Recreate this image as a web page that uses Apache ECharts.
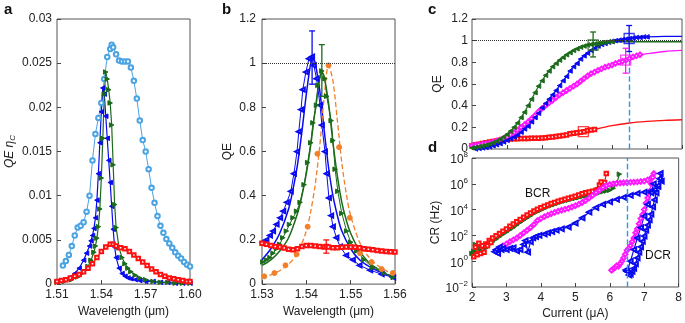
<!DOCTYPE html>
<html>
<head>
<meta charset="utf-8">
<script src="https://cdn.jsdelivr.net/npm/echarts@6/dist/echarts.min.js"></script>
<style>
  html, body { margin: 0; padding: 0; background: #fff; }
  #chart { width: 685px; height: 323px; }
</style>
</head>
<body>
<div id="chart"></div>
<script>
// ---- panel a : QE x eta_C vs wavelength ----
let aLightX = [1.514,1.516,1.518,1.520,1.522,1.524,1.526,1.528,1.530,1.532,1.534,1.536,1.538,1.540,1.542,1.544,1.546,1.547,1.548,1.550,1.552,1.554,1.556,1.558,1.560,1.562,1.564,1.566,1.568,1.570,1.572,1.574,1.576,1.578,1.580,1.582,1.584,1.586,1.588,1.590,1.592,1.594,1.596,1.598,1.600];
let aLightY = [0.0021,0.0026,0.0033,0.0043,0.0055,0.0064,0.0066,0.0070,0.0082,0.0100,0.0140,0.0170,0.0188,0.0205,0.0232,0.0257,0.0266,0.0271,0.0268,0.0260,0.0253,0.0252,0.0252,0.0252,0.0245,0.0230,0.0210,0.0185,0.0163,0.0150,0.0130,0.0109,0.0092,0.0077,0.0066,0.0058,0.0051,0.0046,0.0041,0.0036,0.0032,0.0029,0.0025,0.0022,0.0020];
let aBlueX = [1.510,1.514,1.518,1.522,1.525,1.528,1.530,1.532,1.533,1.534,1.535,1.536,1.537,1.538,1.539,1.540,1.541,1.542,1.543,1.544,1.545,1.546,1.547,1.548,1.549,1.550,1.552,1.554,1.556,1.558,1.560,1.563,1.566,1.570,1.575,1.580,1.585,1.590,1.595,1.600];
let aBlueY = [0.0003,0.0005,0.0007,0.0012,0.0018,0.0027,0.0035,0.0043,0.0049,0.0055,0.0063,0.0075,0.0095,0.0125,0.0160,0.0195,0.0222,0.0215,0.0190,0.0165,0.0140,0.0115,0.0088,0.0062,0.0042,0.0030,0.0018,0.0012,0.0009,0.0007,0.0006,0.0005,0.0004,0.0003,0.0003,0.0002,0.0002,0.0001,0.0001,0.0001];
let aGreenX = [1.510,1.515,1.520,1.524,1.528,1.531,1.533,1.535,1.536,1.537,1.538,1.539,1.540,1.541,1.542,1.543,1.544,1.545,1.546,1.547,1.548,1.549,1.550,1.552,1.554,1.556,1.558,1.560,1.563,1.566,1.570,1.575,1.580,1.585,1.590,1.595,1.600];
let aGreenY = [0.0002,0.0003,0.0005,0.0008,0.0013,0.0020,0.0027,0.0036,0.0043,0.0052,0.0065,0.0085,0.0120,0.0165,0.0215,0.0240,0.0232,0.0220,0.0205,0.0180,0.0135,0.0090,0.0064,0.0041,0.0030,0.0023,0.0018,0.0014,0.0010,0.0007,0.0005,0.0003,0.0002,0.0002,0.0001,0.0001,0.0001];
let aRedX = [1.510,1.513,1.516,1.519,1.522,1.525,1.528,1.531,1.534,1.537,1.540,1.543,1.546,1.548,1.550,1.553,1.556,1.559,1.562,1.565,1.568,1.571,1.574,1.577,1.580,1.583,1.586,1.589,1.592,1.595,1.598,1.600];
let aRedY = [0.0003,0.0004,0.0005,0.0007,0.0009,0.0011,0.0014,0.0018,0.0023,0.0030,0.0037,0.0042,0.0045,0.0045,0.0043,0.0041,0.0040,0.0037,0.0033,0.0029,0.0025,0.0021,0.0017,0.0014,0.0011,0.0009,0.0007,0.0006,0.0005,0.0004,0.0003,0.0003];
let aTicksX = [1.51, 1.54, 1.57, 1.60];

// ---- panel b : QE vs wavelength ----
let bBlueX = [1.5302,1.5310,1.5318,1.5325,1.5333,1.5341,1.5348,1.5356,1.5365,1.5372,1.5379,1.5383,1.5388,1.5392,1.5399,1.5406,1.5413,1.5417,1.5423,1.5431,1.5435,1.5442,1.5446,1.5451,1.5456,1.5460,1.5468,1.5476,1.5490,1.5505,1.5520,1.5544,1.5570,1.5596];
let bBlueY = [0.19,0.20,0.22,0.24,0.27,0.30,0.33,0.37,0.42,0.50,0.60,0.69,0.79,0.88,0.96,1.02,1.03,0.99,0.93,0.81,0.72,0.60,0.50,0.39,0.31,0.26,0.21,0.17,0.13,0.11,0.085,0.063,0.045,0.03];
let bBlueFitX = [1.530,1.532,1.534,1.536,1.537,1.538,1.539,1.540,1.541,1.5415,1.542,1.543,1.544,1.545,1.546,1.547,1.548,1.550,1.552,1.555,1.558,1.560];
let bBlueFitY = [0.11,0.16,0.23,0.34,0.43,0.54,0.69,0.86,1.00,1.02,1.00,0.88,0.70,0.53,0.40,0.31,0.24,0.16,0.11,0.07,0.045,0.035];
let bGreenX = [1.5302,1.5310,1.5318,1.5325,1.5333,1.5340,1.5347,1.5355,1.5362,1.5370,1.5378,1.5386,1.5395,1.5403,1.5410,1.5415,1.5423,1.5426,1.5435,1.5442,1.5446,1.5456,1.5460,1.5465,1.5471,1.5480,1.5491,1.5500,1.5514,1.5530,1.5550,1.5575,1.5596];
let bGreenY = [0.10,0.11,0.12,0.14,0.16,0.18,0.21,0.24,0.27,0.30,0.33,0.37,0.45,0.55,0.64,0.73,0.81,0.90,0.965,0.93,0.85,0.74,0.65,0.52,0.42,0.32,0.24,0.19,0.15,0.11,0.075,0.05,0.03];
let bGreenFitX = [1.530,1.532,1.534,1.536,1.538,1.539,1.540,1.541,1.542,1.543,1.5435,1.544,1.545,1.546,1.547,1.548,1.549,1.550,1.552,1.554,1.556,1.558,1.560];
let bGreenFitY = [0.085,0.11,0.15,0.21,0.32,0.40,0.50,0.63,0.79,0.93,0.96,0.94,0.82,0.64,0.49,0.37,0.29,0.23,0.15,0.10,0.07,0.045,0.03];
let bOrangeX = [1.5305,1.5328,1.5353,1.5378,1.5403,1.5425,1.5450,1.5474,1.5498,1.5521,1.5547,1.5570,1.5595];
let bOrangeY = [0.035,0.05,0.085,0.135,0.26,0.59,0.99,0.62,0.30,0.14,0.10,0.068,0.05];
let bOrangeFitX = [1.530,1.533,1.536,1.538,1.540,1.541,1.542,1.543,1.544,1.545,1.546,1.547,1.548,1.549,1.550,1.552,1.554,1.556,1.558,1.560];
let bOrangeFitY = [0.03,0.05,0.09,0.14,0.24,0.33,0.45,0.62,0.84,0.99,0.92,0.74,0.55,0.41,0.31,0.19,0.125,0.085,0.06,0.045];
let bRedX = [1.530,1.531,1.532,1.533,1.534,1.535,1.536,1.537,1.538,1.539,1.540,1.541,1.542,1.543,1.544,1.5445,1.545,1.546,1.547,1.548,1.549,1.550,1.551,1.552,1.553,1.554,1.555,1.556,1.557,1.558,1.559,1.560];
let bRedY = [0.185,0.18,0.175,0.17,0.168,0.163,0.158,0.155,0.16,0.17,0.175,0.175,0.172,0.17,0.168,0.17,0.168,0.165,0.165,0.167,0.168,0.168,0.167,0.165,0.16,0.158,0.155,0.152,0.15,0.148,0.147,0.145];
let bTicksX = [1.53, 1.54, 1.55, 1.56];
let bErrX = [1.5413, 1.5435, 1.5445];
let bErrLo = [0.905, 0.85, 0.14];
let bErrHi = [1.146, 1.084, 0.20];

// ---- panel c : QE vs current ----
let cGreenX = [2.0,2.1,2.2,2.3,2.4,2.5,2.6,2.7,2.8,2.9,3.0,3.1,3.2,3.3,3.4,3.5,3.6,3.7,3.8,3.9,4.0,4.1,4.2,4.3,4.4,4.5,4.6,4.7,4.8,4.9,5.0,5.1,5.2,5.3,5.4,5.5,5.6,5.7,5.8,5.9,6.0];
let cGreenY = [0.010,0.015,0.020,0.028,0.036,0.046,0.058,0.072,0.090,0.110,0.135,0.165,0.20,0.24,0.29,0.34,0.40,0.46,0.52,0.58,0.63,0.68,0.72,0.76,0.79,0.82,0.845,0.87,0.89,0.91,0.925,0.94,0.95,0.96,0.965,0.97,0.975,0.98,0.985,0.99,0.99];
let cGreenTailX = [6.0, 6.5, 7.0, 7.5, 8.0];
let cGreenTailY = [0.99, 0.99, 0.99, 0.99, 0.99];
let cBlueX = [2.1,2.2,2.3,2.4,2.5,2.6,2.7,2.8,2.9,3.0,3.1,3.2,3.3,3.4,3.5,3.6,3.7,3.8,3.9,4.0,4.1,4.2,4.3,4.4,4.5,4.6,4.7,4.8,4.9,5.0,5.1,5.2,5.3,5.4,5.5,5.6,5.7,5.8,5.9,6.0,6.1,6.2,6.3,6.4,6.5,6.6,6.7,6.8,6.9,7.0];
let cBlueY = [0.0,0.005,0.01,0.015,0.02,0.03,0.04,0.05,0.065,0.08,0.095,0.11,0.13,0.155,0.185,0.21,0.25,0.29,0.33,0.38,0.42,0.46,0.50,0.54,0.585,0.63,0.67,0.72,0.76,0.79,0.83,0.86,0.885,0.91,0.93,0.95,0.965,0.975,0.985,0.995,1.0,1.005,1.01,1.015,1.02,1.025,1.03,1.03,1.035,1.035];
let cBlueTailX = [7.0, 7.5, 8.0];
let cBlueTailY = [1.035, 1.04, 1.04];
let cMagX = [2.0,2.1,2.2,2.3,2.4,2.5,2.6,2.7,2.8,2.9,3.0,3.1,3.2,3.3,3.4,3.5,3.6,3.7,3.8,3.9,4.0,4.1,4.2,4.3,4.4,4.5,4.6,4.7,4.8,4.9,5.0,5.1,5.2,5.3,5.4,5.5,5.6,5.7,5.8,5.9,6.0,6.1,6.2,6.3,6.4,6.5,6.6,6.7,6.8];
let cMagY = [0.03,0.035,0.04,0.045,0.05,0.055,0.065,0.075,0.085,0.097,0.11,0.13,0.15,0.175,0.20,0.225,0.25,0.28,0.31,0.345,0.375,0.40,0.425,0.45,0.475,0.50,0.52,0.54,0.56,0.58,0.60,0.625,0.65,0.675,0.695,0.71,0.725,0.74,0.755,0.765,0.775,0.79,0.80,0.81,0.82,0.835,0.85,0.86,0.87];
let cMagTailX = [6.8, 7.0, 7.5, 8.0];
let cMagTailY = [0.87, 0.88, 0.90, 0.91];
let cRedX = [2.0,2.1,2.2,2.3,2.4,2.5,2.6,2.7,2.8,2.9,3.0,3.1,3.2,3.3,3.4,3.5,3.6,3.7,3.8,3.9,4.0,4.1,4.2,4.3,4.4,4.5,4.6,4.7,4.8,4.9,5.0,5.1,5.2,5.3,5.4,5.5];
let cRedY = [0.03,0.04,0.045,0.05,0.058,0.065,0.07,0.075,0.08,0.085,0.09,0.092,0.094,0.095,0.096,0.097,0.098,0.10,0.10,0.10,0.102,0.105,0.108,0.11,0.115,0.12,0.125,0.13,0.14,0.145,0.15,0.155,0.16,0.17,0.175,0.18];
let cRedTailX = [5.5, 6.0, 6.5, 7.0, 7.5, 8.0];
let cRedTailY = [0.18, 0.215, 0.24, 0.255, 0.265, 0.27];
// big squares with error bars: green, blue, magenta, red
let cErrX = [5.46, 6.49, 6.39, 5.18];
let cErrY = [0.96, 1.02, 0.82, 0.16];
let cErrLo = [0.85, 0.90, 0.70, 0.14];
let cErrHi = [1.08, 1.14, 0.93, 0.18];

// ---- panel d : count rate vs current (BCR going up, DCR coming back) ----
let dRedX = [2.05,2.1,2.15,2.2,2.25,2.3,2.35,2.4,2.45,2.5,2.55,2.6,2.7,2.8,2.9,3.0,3.1,3.2,3.3,3.4,3.5,3.6,3.7,3.8,3.9,4.0,4.1,4.2,4.3,4.4,4.5,4.6,4.7,4.8,4.9,5.0,5.1,5.2,5.3,5.4,5.5,5.6,5.65,5.7,5.75,5.8,5.85,5.9];
let dRedY = [2.2,12,3.2,25,4,16,5,22,16,40,28,63,95,141,209,316,501,759,1148,1738,2570,3802,5495,7943,1.05e4,1.38e4,1.78e4,2.29e4,2.95e4,3.63e4,4.37e4,5.25e4,6.31e4,7.59e4,9.12e4,1.1e5,1.35e5,1.66e5,2.0e5,2.29e5,2.63e5,3.16e5,3.5e5,8e5,1.4e6,6.3e5,1.26e6,6.3e6];
let dGreenX = [2.0,2.05,2.1,2.15,2.2,2.25,2.3,2.4,2.5,2.6,2.7,2.8,2.9,3.0,3.1,3.2,3.3,3.4,3.5,3.6,3.7,3.8,3.9,4.0,4.1,4.2,4.3,4.4,4.5,4.6,4.7,4.8,4.9,5.0,5.1,5.2,5.3,5.4,5.5,5.6,5.7,5.8,5.9,6.0,6.1,6.2,6.28];
let dGreenY = [4,6,20,10,20,6,16,10,20,32,50,79,120,178,269,398,631,1000,1514,2239,3311,5012,6761,8913,1.2e4,1.58e4,2.0e4,2.5e4,3.16e4,3.8e4,4.57e4,5.37e4,6.3e4,7.4e4,8.5e4,1.0e5,1.15e5,1.32e5,1.5e5,1.78e5,2.0e5,2.4e5,2.75e5,3.16e5,4.5e5,1.0e6,5.6e6];
let dMagX = [2.8,2.9,3.0,3.1,3.2,3.3,3.4,3.5,3.6,3.7,3.8,3.9,4.0,4.1,4.2,4.3,4.4,4.5,4.6,4.7,4.8,4.9,5.0,5.1,5.2,5.3,5.4,5.5,5.6,5.7,5.8,5.9,6.0,6.1,6.2,6.3,6.4,6.5,6.6,6.7,6.8,6.9,7.0,7.1,7.2,7.28,
  7.25,7.2,7.15,7.1,7.05,7.0,6.95,6.9,6.85,6.8,6.75,6.7,6.65,6.6,6.55,6.5,6.45,6.4,6.35,6.3,6.25,6.2,6.15,6.1,6.05];
let dMagY = [10,16,22,32,45,63,100,158,251,398,708,1413,2000,2818,3715,4786,6026,7413,8913,1.07e4,1.26e4,1.58e4,2.0e4,2.63e4,3.55e4,5.0e4,7.9e4,1.26e5,2.0e5,3.16e5,5.0e5,7.1e5,8.9e5,1.0e6,1.07e6,1.15e6,1.2e6,1.26e6,1.3e6,1.35e6,1.4e6,1.5e6,1.6e6,2.0e6,2.8e6,6.3e6,
  3.2e6,1.0e6,2.5e5,8e4,3.2e4,1.0e4,4000,2000,800,320,160,63,32,16,10,7,3.5,1.8,1.0,0.63,0.4,0.45,0.32,0.25,0.2];
let dBlueX = [2.66,2.7,2.75,2.8,2.85,2.9,3.0,3.1,3.2,3.3,3.4,3.5,3.55,3.62,3.7,3.77,3.85,3.95,4.1,4.2,4.32,4.45,4.6,4.8,5.0,5.2,5.4,5.6,5.8,6.0,6.2,6.4,6.6,6.8,7.0,7.2,7.3,7.4,7.47,
  7.5,7.45,7.4,7.35,7.3,7.25,7.2,7.15,7.1,7.05,7.0,6.95,6.9,6.85,6.8,6.75,6.7,6.65,6.6,6.56,6.5,6.47];
let dBlueY = [5.5,8,4,12.6,8,10,8,10,11,6.3,8,20,40,5,32,63,80,100,126,158,195,251,316,447,891,2239,6310,1.41e4,2.5e4,4.0e4,6.3e4,8.9e4,1.26e5,1.78e5,2.24e5,2.8e5,3.5e5,6.3e5,6.3e6,
  1.6e6,2.5e6,7.1e5,2.0e5,5.6e4,1.6e4,4.5e3,1.6e3,631,251,89,35,13,5,1.8,0.63,0.28,0.16,0.1,0.085,0.16,0.21];
// inner edge of the blue DCR band
let dBlueInX = [6.5,6.6,6.7,6.8,6.9,7.0,7.1,7.2,7.27];
let dBlueInY = [0.16,1.0,8,63,400,3162,2.5e4,2.0e5,1.0e6];
let dTicksY = [1e-2, 1, 1e2, 1e4, 1e6, 1e8];

let qeRef = 1;        // dotted unity line
let currentMark = 6.5; // dashed bias line

const FONT = 'Liberation Sans, Arial, sans-serif';
const BLUE = '#0a0af0', GREEN = '#1b6b1b', RED = '#ff1010', MAG = '#ff19ff', ORANGE = '#f2802a', LIGHT = '#4aa3e2', VLINE = '#1f9fe8';

function zip(xs, ys) {
  return xs.map(function (x, i) { return [x, ys[i]]; });
}

function marks(g, xs, ys, color, symbol, rotate, size, lw) {
  return {
    type: 'line', xAxisIndex: g, yAxisIndex: g, data: zip(xs, ys),
    symbol: symbol, symbolRotate: rotate || 0, symbolSize: size, showAllSymbol: true,
    lineStyle: { color: color, width: lw || 1 },
    itemStyle: { color: color, borderColor: color, borderWidth: 1 },
    z: 3
  };
}

function fit(g, xs, ys, color, type, lw) {
  return {
    type: 'line', xAxisIndex: g, yAxisIndex: g, data: zip(xs, ys),
    symbol: 'none', smooth: 0.3,
    lineStyle: { color: color, width: lw || 1.3, type: type || 'solid' },
    z: 2
  };
}

function errBar(g, x, lo, hi, color) {
  return {
    type: 'custom', xAxisIndex: g, yAxisIndex: g,
    data: [[x, lo, hi]], encode: { x: 0, y: [1, 2] }, z: 6,
    renderItem: function (params, api) {
      let p1 = api.coord([api.value(0), api.value(1)]);
      let p2 = api.coord([api.value(0), api.value(2)]);
      let w = 3;
      let st = { stroke: color, lineWidth: 1.3 };
      return {
        type: 'group', children: [
          { type: 'line', shape: { x1: p1[0], y1: p1[1], x2: p2[0], y2: p2[1] }, style: st },
          { type: 'line', shape: { x1: p1[0] - w, y1: p1[1], x2: p1[0] + w, y2: p1[1] }, style: st },
          { type: 'line', shape: { x1: p2[0] - w, y1: p2[1], x2: p2[0] + w, y2: p2[1] }, style: st }
        ]
      };
    }
  };
}

function axisBase(g) {
  return {
    gridIndex: g, type: 'value',
    axisLine: { show: false },
    axisTick: { inside: true, length: 4, lineStyle: { color: '#444' } },
    axisLabel: { color: '#222', fontSize: 12, fontFamily: FONT },
    splitLine: { show: false },
    nameTextStyle: { color: '#222', fontSize: 12, fontFamily: FONT }
  };
}

function ax(g, extra) {
  let o = axisBase(g);
  for (let k in extra) {
    if (typeof extra[k] === 'object' && o[k] && !Array.isArray(extra[k])) {
      o[k] = Object.assign({}, o[k], extra[k]);
    } else {
      o[k] = extra[k];
    }
  }
  return o;
}

let gridStyle = { show: true, borderColor: '#555', borderWidth: 1, backgroundColor: 'transparent' };

let chart = echarts.init(document.getElementById('chart'), null, { renderer: 'canvas' });

let option = {
  animation: false,
  grid: [
    Object.assign({ left: 57, top: 19, width: 133, height: 268 }, gridStyle),
    Object.assign({ left: 262, top: 19, width: 133, height: 268 }, gridStyle),
    Object.assign({ left: 472, top: 19, width: 210, height: 130 }, gridStyle),
    Object.assign({ left: 472, top: 158, width: 210, height: 129 }, gridStyle)
  ],
  xAxis: [
    ax(0, { min: 1.51, max: 1.60, name: 'Wavelength (\u03bcm)', nameLocation: 'middle', nameGap: 21,
      axisLabel: { customValues: aTicksX, margin: 5, formatter: function (v) { return v.toFixed(2); } },
      axisTick: { customValues: aTicksX } }),
    ax(1, { min: 1.53, max: 1.56, name: 'Wavelength (\u03bcm)', nameLocation: 'middle', nameGap: 21,
      axisLabel: { customValues: bTicksX, margin: 5, formatter: function (v) { return v.toFixed(2); } },
      axisTick: { customValues: bTicksX } }),
    ax(2, { min: 2, max: 8, interval: 1, axisLabel: { show: false } }),
    ax(3, { min: 2, max: 8, interval: 1, name: 'Current (\u03bcA)', nameLocation: 'middle', nameGap: 21,
      axisLabel: { margin: 5 } })
  ],
  yAxis: [
    ax(0, { min: 0, max: 0.03, interval: 0.005, name: '{i|QE \u03b7}{s|C}', nameLocation: 'middle', nameGap: 40,
      axisLabel: { margin: 5 },
      nameTextStyle: { rich: { i: { fontStyle: 'italic', fontSize: 12, fontFamily: FONT, color: '#222' },
        s: { fontStyle: 'italic', fontSize: 8, fontFamily: FONT, color: '#222', padding: [6, 0, 0, 0] } } } }),
    ax(1, { min: 0, max: 1.2, interval: 0.2, name: 'QE', nameLocation: 'middle', nameGap: 28, axisLabel: { margin: 6 } }),
    ax(2, { min: 0, max: 1.2, interval: 0.2, name: 'QE', nameLocation: 'middle', nameGap: 28, axisLabel: { margin: 4 } }),
    ax(3, { type: 'log', logBase: 10, min: 1e-2, max: 1e8, name: 'CR (Hz)', nameLocation: 'middle', nameGap: 28,
      axisTick: { customValues: dTicksY },
      axisLabel: { customValues: dTicksY, margin: 4,
        formatter: function (v) {
          let e = Math.round(Math.log10(v));
          return '{b|10}{s|' + (e < 0 ? '\u2212' + (-e) : e) + '}';
        },
        rich: { b: { fontSize: 12, fontFamily: FONT, color: '#222', padding: [4, 0, 0, 0] },
                s: { fontSize: 8, fontFamily: FONT, color: '#222', padding: [0, 0, 6, 0] } } } })
  ],
  graphic: [
    { type: 'text', left: 4, top: 2, style: { text: 'a', font: 'bold 15px ' + FONT, fill: '#111' } },
    { type: 'text', left: 222, top: 2, style: { text: 'b', font: 'bold 15px ' + FONT, fill: '#111' } },
    { type: 'text', left: 428, top: 2, style: { text: 'c', font: 'bold 15px ' + FONT, fill: '#111' } },
    { type: 'text', left: 428, top: 140, style: { text: 'd', font: 'bold 15px ' + FONT, fill: '#111' } },
    { type: 'text', left: 525, top: 188, style: { text: 'BCR', font: '12px ' + FONT, fill: '#111' } },
    { type: 'text', left: 645, top: 250, style: { text: 'DCR', font: '12px ' + FONT, fill: '#111' } }
  ],
  series: [
    // a
    marks(0, aLightX, aLightY, LIGHT, 'emptyCircle', 0, 4.5, 1),
    marks(0, aBlueX, aBlueY, BLUE, 'triangle', 90, 4.5, 1.2),
    marks(0, aGreenX, aGreenY, GREEN, 'triangle', -90, 4.5, 1.2),
    marks(0, aRedX, aRedY, RED, 'emptyRect', 0, 3.5, 1.2),
    // b
    fit(1, bBlueFitX, bBlueFitY, BLUE, 'solid', 1.5),
    fit(1, bGreenFitX, bGreenFitY, GREEN, 'solid', 1.5),
    fit(1, bOrangeFitX, bOrangeFitY, ORANGE, 'dashed', 1.3),
    marks(1, bBlueX, bBlueY, BLUE, 'emptyTriangle', 90, 4, 1),
    marks(1, bGreenX, bGreenY, GREEN, 'triangle', -90, 4.5, 1),
    Object.assign(marks(1, bOrangeX, bOrangeY, ORANGE, 'circle', 0, 5, 1), { lineStyle: { width: 0 } }),
    Object.assign(marks(1, bRedX, bRedY, RED, 'emptyRect', 0, 3.5, 1.5), {
      markLine: { silent: true, symbol: 'none', label: { show: false },
        lineStyle: { type: 'dotted', color: '#333', width: 1 }, data: [{ yAxis: qeRef }] }
    }),
    errBar(1, bErrX[0], bErrLo[0], bErrHi[0], BLUE),
    errBar(1, bErrX[1], bErrLo[1], bErrHi[1], GREEN),
    errBar(1, bErrX[2], bErrLo[2], bErrHi[2], RED),
    // c
    fit(2, cGreenTailX, cGreenTailY, GREEN, 'solid', 1.3),
    fit(2, cBlueTailX, cBlueTailY, BLUE, 'solid', 1.3),
    fit(2, cMagTailX, cMagTailY, MAG, 'solid', 1.3),
    fit(2, cRedTailX, cRedTailY, RED, 'solid', 1.3),
    Object.assign(marks(2, cRedX, cRedY, RED, 'emptyRect', 0, 3.5, 1.2), {
      markLine: { silent: true, symbol: 'none', label: { show: false },
        lineStyle: { type: 'dotted', color: '#333', width: 1 }, data: [{ yAxis: qeRef }] }
    }),
    marks(2, cMagX, cMagY, MAG, 'emptyDiamond', 0, 4.5, 1.2),
    marks(2, cBlueX, cBlueY, BLUE, 'triangle', 90, 4.5, 1.2),
    marks(2, cGreenX, cGreenY, GREEN, 'triangle', 90, 4.5, 1.2),
    {
      type: 'scatter', xAxisIndex: 2, yAxisIndex: 2, z: 7,
      data: zip(cErrX, cErrY).map(function (p, i) {
        return { value: p, itemStyle: { borderColor: [GREEN, BLUE, MAG, RED][i] } };
      }),
      symbol: 'rect', symbolSize: 10,
      itemStyle: { color: 'rgba(0,0,0,0)', borderWidth: 1.3 },
      markLine: { silent: true, symbol: 'none', label: { show: false },
        lineStyle: { type: 'dashed', color: VLINE, width: 1.4 },
        data: [[{ coord: [currentMark, 0] }, { coord: [currentMark, 0.9] }]] }
    },
    errBar(2, cErrX[0], cErrLo[0], cErrHi[0], GREEN),
    errBar(2, cErrX[1], cErrLo[1], cErrHi[1], BLUE),
    errBar(2, cErrX[2], cErrLo[2], cErrHi[2], MAG),
    // d
    marks(3, dGreenX, dGreenY, GREEN, 'triangle', -90, 4.5, 1.2),
    marks(3, dRedX, dRedY, RED, 'emptyRect', 0, 3.5, 1.2),
    marks(3, dMagX, dMagY, MAG, 'emptyDiamond', 0, 4.5, 1.2),
    Object.assign(marks(3, dBlueX, dBlueY, BLUE, 'emptyTriangle', 90, 4.5, 1.2), {
      markLine: { silent: true, symbol: 'none', label: { show: false }, z: 8,
        lineStyle: { type: 'dashed', color: VLINE, width: 1.4 }, data: [{ xAxis: currentMark }] }
    }),
    marks(3, dBlueInX, dBlueInY, BLUE, 'emptyTriangle', 90, 4.5, 1.2)
  ]
};

chart.setOption(option);
</script>
</body>
</html>
